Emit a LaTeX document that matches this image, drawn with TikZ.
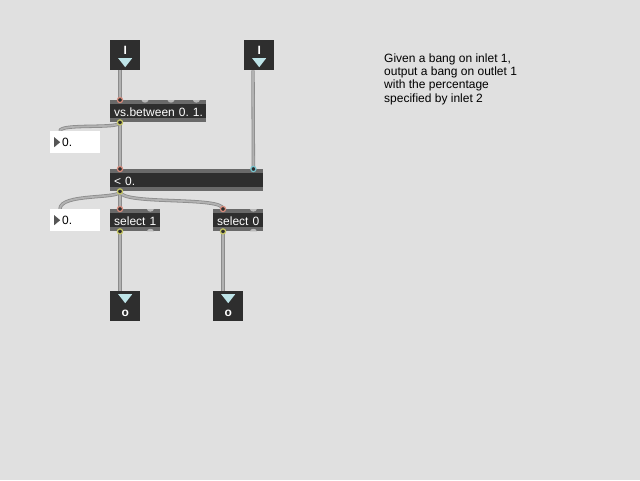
\documentclass[tikz,border=0pt]{standalone}
\usepackage{fontspec}
\setmainfont{Liberation Sans}
\usetikzlibrary{calc}
\definecolor{patchbg}{RGB}{224,224,224}
\definecolor{boxbody}{RGB}{46,46,46}
\definecolor{boxedge}{RGB}{105,105,105}
\definecolor{bangcyan}{RGB}{190,228,232}
\definecolor{inred}{RGB}{215,140,125}
\definecolor{incyan}{RGB}{120,195,205}
\definecolor{outyel}{RGB}{200,200,100}
\definecolor{numtri}{RGB}{85,85,85}
\pgfdeclarelayer{paper}
\pgfdeclarelayer{wires}
\pgfsetlayers{paper,wires,main}
\frenchspacing
\tikzset{
  patchfont/.style={font=\fontsize{12}{13.3}\selectfont},
  obj/.style={patchfont, fill=boxbody, text=white, anchor=north west, inner xsep=4, inner ysep=0,
    minimum height=22, align=left, text height=10, text depth=0,
    path picture={
      \fill[boxedge] (path picture bounding box.north west) rectangle ([yshift=-4]path picture bounding box.north east);
      \fill[boxedge] (path picture bounding box.south west) rectangle ([yshift=4]path picture bounding box.south east);
    }},
  numbox/.style={patchfont, fill=white, anchor=north west, inner sep=0, minimum height=22,
    text width=50, align=left, text height=9.5, text depth=0,
    path picture={
      \fill[numtri] ($(path picture bounding box.center)+(-21,-5)$) -- ++(6,5) -- ++(-6,5) -- cycle;
    }},
  bangin/.style={fill=boxbody, text=white, font=\bfseries\fontsize{12}{14}\selectfont, anchor=north west,
    minimum size=30, inner sep=0, text height=8.6, text depth=11,
    path picture={
      \fill[bangcyan] ($(path picture bounding box.center)+(-7,3)$) -- ++(14,0) -- ++(-7,9) -- cycle;
    }},
  bangout/.style={fill=boxbody, text=white, font=\bfseries\fontsize{12}{14}\selectfont, anchor=north west,
    minimum size=30, inner sep=0, text height=20, text depth=0,
    path picture={
      \fill[bangcyan] ($(path picture bounding box.center)+(-7,-12)$) -- ++(14,0) -- ++(-7,9) -- cycle;
    }},
  cord/.style={draw=black!45, line width=3.4, postaction={draw=black!30, line width=1.8}},
  portfree/.style={fill=black!28},
}
\begin{document}
\begin{tikzpicture}[x=1pt,y=-1pt]
\begin{pgfonlayer}{paper}
\fill[patchbg] (0,0) rectangle (640,480);
\end{pgfonlayer}
% inlets
\node[bangin] (inA) at (110,40) {I};
\node[bangin] (inB) at (244,40) {I};
% objects
\node[obj, text width=88] (between) at (110,100) {\mbox{vs.between 0. 1.}};
\node[numbox] (numA) at (50,131) {\hspace*{12pt}0.};
\node[obj, text width=145] (less) at (110,169) {\mbox{< 0.}};
\node[numbox] (numB) at (50,209) {\hspace*{12pt}0.};
\node[obj, text width=42] (selA) at (110,209) {\mbox{select 1}};
\node[obj, text width=42] (selB) at (213,209) {\mbox{select 0}};
% outlets
\node[bangout] (outA) at (110,291) {o};
\node[bangout] (outB) at (213,291) {o};
% comment
\node[patchfont, anchor=north west, inner sep=0, align=left] (note) at (384,53.3)
  {Given a bang on inlet 1,\\output a bang on outlet 1\\with the percentage\\specified by inlet 2};
% ports
\coordinate (iaOut) at ([xshift=10]inA.south west);
\coordinate (ibOut) at ([xshift=9]inB.south west);
\coordinate (btIn) at ([xshift=10]between.north west);
\coordinate (btF1) at ([xshift=35]between.north west);
\coordinate (btF2) at ([xshift=61]between.north west);
\coordinate (btF3) at ([xshift=-10]between.north east);
\coordinate (btOut) at ([xshift=10]between.south west);
\coordinate (naIn) at ([xshift=10]numA.north west);
\coordinate (lsIn) at ([xshift=10]less.north west);
\coordinate (lsIn2) at ([xshift=-10]less.north east);
\coordinate (lsOut) at ([xshift=10]less.south west);
\coordinate (nbIn) at ([xshift=10]numB.north west);
\coordinate (saIn) at ([xshift=10]selA.north west);
\coordinate (saF) at ([xshift=-10]selA.north east);
\coordinate (saOut) at ([xshift=10]selA.south west);
\coordinate (saG) at ([xshift=-10]selA.south east);
\coordinate (sbIn) at ([xshift=10]selB.north west);
\coordinate (sbF) at ([xshift=-10]selB.north east);
\coordinate (sbOut) at ([xshift=10]selB.south west);
\coordinate (sbG) at ([xshift=-10]selB.south east);
\coordinate (oaIn) at ([xshift=10]outA.north west);
\coordinate (obIn) at ([xshift=10]outB.north west);
% patch cords
\begin{pgfonlayer}{wires}
\draw[cord] (iaOut) -- (btIn);
\draw[cord] (ibOut) -- (lsIn2);
\draw[cord] (btOut) -- (lsIn);
\draw[cord] (btOut) .. controls ($(btOut)+(0,7)$) and ($(naIn)+(0,-8)$) .. (naIn);
\draw[cord] (lsOut) -- (saIn);
\draw[cord] (lsOut) .. controls ($(lsOut)+(0,8)$) and ($(nbIn)+(0,-16)$) .. (nbIn);
\draw[cord] (lsOut) .. controls ($(lsOut)+(0,14)$) and ($(sbIn)+(0,-13)$) .. (sbIn);
\draw[cord] (saOut) -- (oaIn);
\draw[cord] (sbOut) -- (obIn);
\end{pgfonlayer}
\foreach \p/\s in {btF1/1, btF2/1, btF3/1, saF/1, saG/-1, sbF/1, sbG/-1}
  \fill[portfree] ($(\p)+(-3.5,0)$) .. controls ($(\p)+(-3,3.5*\s)$) and ($(\p)+(3,3.5*\s)$) .. ($(\p)+(3.5,0)$) -- cycle;
\foreach \p/\c in {btIn/inred, lsIn/inred, saIn/inred, sbIn/inred, lsIn2/incyan,
                   btOut/outyel, lsOut/outyel, saOut/outyel, sbOut/outyel}
  \filldraw[draw=\c, fill=boxbody, line width=1.2] (\p) circle[radius=2.6];
\end{tikzpicture}
\end{document}
